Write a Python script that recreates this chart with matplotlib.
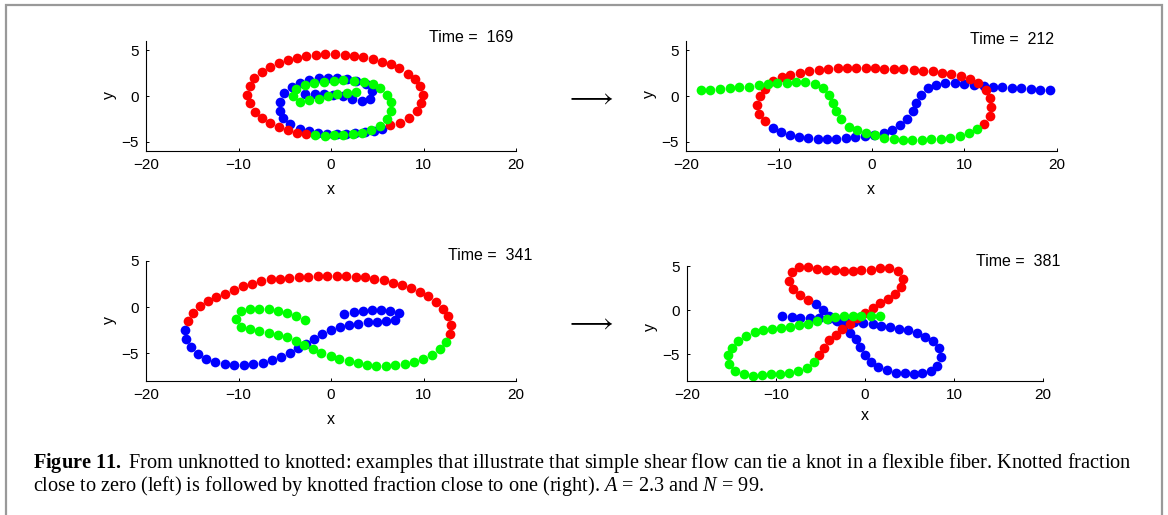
import numpy as np
import matplotlib
matplotlib.use('Agg')
import matplotlib.pyplot as plt
from matplotlib.patches import Rectangle

# ---- bead positions (x, y) ----
# Time = 169
t169_red_x = [-2.7, -3.7, -4.7, -5.65, -6.6, -7.45, -8.25, -8.8, -9.1, -8.8, -8.3, -7.45, -6.55, -5.6,
              -4.6, -3.65, -2.65, -1.65, -0.6, 0.45, 1.5, 2.45, 3.5, 4.5, 5.5, 6.5, 7.4, 8.3, 9.05, 9.65,
              9.95, 9.75, 9.25, 8.4, 7.5, 6.4]
t169_red_y = [-4.15, -4.0, -3.75, -3.4, -2.95, -2.4, -1.7, -0.8, 0.15, 1.05, 1.95, 2.65, 3.2, 3.55,
              3.9, 4.15, 4.35, 4.5, 4.6, 4.6, 4.5, 4.4, 4.25, 4.0, 3.75, 3.45, 3.0, 2.45, 1.8, 1.1,
              0.15, -0.8, -1.6, -2.4, -2.9, -3.2]
t169_blue_x = [-2.8, -1.75, -0.8, 0.2, 1.25, 2.25, 3.3, 4.25, 4.45, 3.8, 2.75, 1.75, 0.65, -0.35, -1.35,
               -2.4, -3.35, -4.25, -5.1, -5.5, -5.55, -5.2, -4.4, -3.4, -2.4, -1.45, -0.45, 0.6, 1.6,
               2.6, 3.65, 4.6, 5.55]
t169_blue_y = [0.2, 0.25, 0.2, 0.15, -0.05, -0.35, -0.5, -0.35, 0.6, 1.3, 1.6, 1.8, 1.95, 2.0, 1.95,
               1.75, 1.45, 1.0, 0.35, -0.6, -1.6, -2.45, -3.1, -3.55, -3.85, -4.0, -4.1, -4.15, -4.1,
               -4.05, -3.95, -3.8, -3.65]
t169_green_x = [2.75, 1.75, 0.7, -0.3, -1.35, -2.35, -3.3, -4.1, -3.75, -2.85, -1.85, -0.8, 0.3, 1.35,
                2.45, 3.55, 4.5, 5.35, 6.05, 6.5, 6.5, 6.05, 5.25, 4.3, 3.35, 2.35, 1.35, 0.35, -0.7, -1.75]
t169_green_y = [0.45, 0.35, 0.2, -0.05, -0.3, -0.45, -0.6, 0.0, 0.75, 1.2, 1.45, 1.55, 1.6, 1.7,
                1.65, 1.5, 1.35, 0.85, 0.15, -0.7, -1.6, -2.55, -3.3, -3.75, -4.0, -4.1, -4.2, -4.3, -4.35, -4.2]

# Time = 212
t212_red_x = [-11.5, -12.15, -12.35, -12.05, -11.45, -10.6, -9.7, -8.75, -7.75, -6.7, -5.7, -4.7, -3.65,
              -2.65, -1.65, -0.6, 0.4, 1.4, 2.45, 3.45, 4.55, 5.55, 6.6, 7.6, 8.6, 9.6, 10.6, 11.45,
              12.3, 12.75, 12.9, 12.75, 12.15]
t212_red_y = [-2.75, -1.95, -0.95, 0.0, 0.75, 1.6, 2.05, 2.3, 2.55, 2.7, 2.85, 2.9, 3.0,
              3.0, 3.0, 3.0, 3.0, 2.95, 2.95, 2.9, 2.85, 2.75, 2.7, 2.55, 2.4, 2.2, 1.85, 1.4,
              0.65, -0.2, -1.15, -2.15, -3.05]
t212_blue_x = [-10.6, -9.75, -8.8, -7.8, -6.8, -5.8, -4.8, -3.8, -2.75, -1.75, -0.75, 0.25, 1.3, 2.2,
               3.1, 3.85, 4.45, 4.85, 5.35, 6.05, 7.0, 7.95, 8.95, 10.0, 11.0, 12.1, 13.1, 14.1, 15.15,
               16.15, 17.15, 18.15, 19.2]
t212_blue_y = [-3.5, -3.9, -4.3, -4.5, -4.6, -4.65, -4.65, -4.65, -4.6, -4.5, -4.4, -4.3, -4.05, -3.7,
               -3.15, -2.5, -1.65, -0.8, 0.15, 0.85, 1.25, 1.4, 1.4, 1.3, 1.2, 1.05, 1.0, 0.95, 0.85,
               0.85, 0.75, 0.7, 0.65]
t212_green_x = [-18.4, -17.4, -16.3, -15.3, -14.25, -13.25, -12.15, -11.15, -10.15, -9.1, -8.1, -7.15,
                -6.05, -5.25, -4.6, -4.15, -3.8, -3.3, -2.45, -1.55, -0.55, 0.4, 1.4, 2.4, 3.4, 4.4,
                5.45, 6.45, 7.5, 8.5, 9.5, 10.5, 11.4]
t212_green_y = [0.7, 0.7, 0.8, 0.85, 0.95, 1.0, 1.2, 1.3, 1.4, 1.45, 1.55, 1.5,
                1.3, 0.85, 0.15, -0.8, -1.65, -2.55, -3.35, -3.75, -4.0, -4.3, -4.55, -4.7, -4.8, -4.8,
                -4.75, -4.7, -4.65, -4.55, -4.35, -4.05, -3.6]

# Time = 341
t341_red_x = [-15.5, -14.9, -14.2, -13.35, -12.4, -11.5, -10.5, -9.55, -8.55, -7.55, -6.5, -5.5, -4.5,
              -3.5, -2.5, -1.45, -0.45, 0.6, 1.6, 2.65, 3.7, 4.7, 5.75, 6.7, 7.7, 8.7, 9.6, 10.5,
              11.4, 12.1, 12.65, 12.95, 12.9]
t341_red_y = [-1.45, -0.6, 0.1, 0.65, 1.05, 1.45, 1.85, 2.25, 2.55, 2.8, 3.0, 3.1, 3.2,
              3.25, 3.3, 3.35, 3.35, 3.35, 3.35, 3.3, 3.25, 3.1, 2.9, 2.65, 2.35, 2.05, 1.6, 1.2,
              0.6, -0.15, -0.95, -1.95, -2.95]
t341_blue_x = [-15.75, -15.65, -15.15, -14.4, -13.5, -12.5, -11.5, -10.5, -9.45, -8.45, -7.4, -6.4, -5.4,
               -4.45, -3.6, -2.75, -1.85, -0.95, -0.05, 0.95, 1.9, 2.9, 3.95, 4.95, 5.95, 6.95, 7.3,
               6.4, 5.45, 4.45, 3.45, 2.45, 1.45]
t341_blue_y = [-2.5, -3.5, -4.35, -5.1, -5.6, -5.95, -6.15, -6.25, -6.25, -6.2, -6.0, -5.7, -5.45,
               -5.0, -4.45, -4.0, -3.45, -2.95, -2.5, -2.2, -1.95, -1.85, -1.65, -1.6, -1.55, -1.4, -0.6,
               -0.4, -0.3, -0.3, -0.4, -0.5, -0.7]
t341_green_x = [-2.85, -3.8, -4.75, -5.75, -6.75, -7.8, -8.8, -9.75, -10.25, -9.75, -8.8, -7.8, -6.75,
                -5.75, -4.75, -3.8, -2.95, -2.0, -1.1, -0.05, 0.9, 1.9, 2.9, 3.9, 4.9, 5.95, 6.95,
                7.95, 8.95, 9.95, 10.9, 11.75, 12.45]
t341_green_y = [-1.35, -0.95, -0.6, -0.4, -0.25, -0.2, -0.2, -0.45, -1.3, -2.1, -2.4, -2.6, -2.75,
                -3.0, -3.25, -3.65, -4.15, -4.55, -4.95, -5.3, -5.6, -5.85, -6.1, -6.25, -6.35, -6.35, -6.3,
                -6.15, -5.9, -5.6, -5.2, -4.55, -3.8]

# Time = 381
t381_red_x = [-5.15, -4.6, -4.0, -3.3, -2.55, -1.7, -0.85, 0.0, 0.85, 1.7, 2.55, 3.4, 4.05, 4.25,
              3.75, 2.75, 1.7, 0.65, -0.4, -1.4, -2.35, -3.4, -4.4, -5.35, -6.4, -7.4, -8.25, -8.5,
              -8.05, -7.3, -6.45]
t381_red_y = [-5.1, -4.25, -3.35, -2.75, -2.1, -1.5, -0.85, -0.3, 0.25, 0.8, 1.25, 1.85, 2.6, 3.55,
              4.45, 4.8, 4.75, 4.6, 4.5, 4.4, 4.45, 4.5, 4.6, 4.7, 4.85, 4.85, 4.3, 3.25,
              2.4, 1.75, 1.2]
t381_blue_x = [-5.55, -4.75, -4.0, -3.2, -2.45, -1.7, -1.0, -0.55, 0.0, 0.65, 1.5, 2.45, 3.45, 4.45,
               5.45, 6.45, 7.45, 8.05, 8.55, 8.3, 7.6, 6.75, 5.8, 4.8, 3.85, 2.8, 1.8, 0.85, -0.2,
               -1.2, -2.25, -3.25, -4.2, -5.2, -6.2, -7.25, -8.25, -9.3]
t381_blue_y = [0.65, 0.0, -0.6, -1.25, -1.85, -2.55, -3.3, -4.15, -5.05, -5.85, -6.4, -6.8, -7.05, -7.1,
               -7.2, -7.15, -6.9, -6.3, -5.25, -4.3, -3.5, -3.0, -2.55, -2.25, -2.1, -1.95, -1.75, -1.6, -1.45,
               -1.35, -1.2, -1.15, -0.95, -0.9, -0.9, -0.85, -0.8, -0.65]
t381_green_x = [1.7, 0.65, -0.4, -1.4, -2.35, -3.4, -4.3, -5.35, -6.4, -7.4, -8.45, -9.45, -10.45,
                -11.45, -12.4, -13.4, -14.25, -15.0, -15.4, -15.25, -14.6, -13.6, -12.55, -11.55,
                -10.55, -9.55, -8.5, -7.5, -6.5, -5.75]
t381_green_y = [-0.6, -0.6, -0.6, -0.65, -0.65, -0.75, -0.95, -1.25, -1.5, -1.7, -1.85, -2.0, -2.15,
                -2.25, -2.5, -2.95, -3.5, -4.25, -5.1, -6.1, -6.85, -7.25, -7.4, -7.35,
                -7.25, -7.2, -7.05, -6.9, -6.5, -5.85]

times = [169, 212, 341, 381]
xticks = [-20, -10, 0, 10, 20]
yticks = [-5, 0, 5]

W, H = 1168, 515


def px_box(l, t, r, b):
    # pixel box -> figure fraction [left, bottom, width, height]
    return [l / W, 1 - b / H, (r - l) / W, (b - t) / H]


def fx(x):
    return x / W


def fy(y):
    return 1 - y / H


plt.rcParams['mathtext.fontset'] = 'custom'
plt.rcParams['mathtext.rm'] = 'Liberation Serif'
plt.rcParams['mathtext.it'] = 'Liberation Serif:italic'
plt.rcParams['mathtext.bf'] = 'Liberation Serif:bold'

fig = plt.figure(figsize=(W / 100, H / 100), dpi=100)

panels = [
    dict(box=px_box(146, 41, 516, 151), ylim=(-6, 6),
         red=(t169_red_x, t169_red_y), blue=(t169_blue_x, t169_blue_y), green=(t169_green_x, t169_green_y),
         title=(513, 37), xlab=(331, 189), ylab=(109, 95)),
    dict(box=px_box(686, 41, 1057, 151), ylim=(-6, 6),
         red=(t212_red_x, t212_red_y), blue=(t212_blue_x, t212_blue_y), green=(t212_green_x, t212_green_y),
         title=(1054, 39), xlab=(871, 189), ylab=(649, 94)),
    dict(box=px_box(146, 261, 516, 381), ylim=(-8, 5),
         red=(t341_red_x, t341_red_y), blue=(t341_blue_x, t341_blue_y), green=(t341_green_x, t341_green_y),
         title=(532, 256), xlab=(331, 419), ylab=(109, 320)),
    dict(box=px_box(687, 266, 1043, 381), ylim=(-8, 5),
         red=(t381_red_x, t381_red_y), blue=(t381_blue_x, t381_blue_y), green=(t381_green_x, t381_green_y),
         title=(1060, 262), xlab=(865, 416), ylab=(650, 327)),
]

sans = 'Liberation Sans'
ms = 7.0

for p, t in zip(panels, times):
    ax = fig.add_axes(p['box'])
    # draw order: blue, red, green
    for key, col in [('blue', '#0000ff'), ('red', '#ff0000'), ('green', '#00ff00')]:
        xs, ys = p[key]
        ax.plot(xs, ys, 'o', ms=ms, mfc=col, mec=col, mew=0, clip_on=False)
    ax.set_xlim(-20, 20)
    ax.set_ylim(*p['ylim'])
    ax.set_xticks(xticks)
    ax.set_yticks(yticks)
    ax.set_xticklabels([str(v).replace('-', '\u2212') for v in xticks])
    ax.set_yticklabels([str(v).replace('-', '\u2212') for v in yticks])
    for s in ['top', 'right']:
        ax.spines[s].set_visible(False)
    for s in ['left', 'bottom']:
        ax.spines[s].set_linewidth(0.8)
    ax.tick_params(direction='in', length=2.5, width=0.7, labelsize=11, pad=5)
    for lab in ax.get_xticklabels() + ax.get_yticklabels():
        lab.set_family(sans)
    ax.patch.set_visible(False)

    fig.text(fx(p['title'][0]), fy(p['title'][1]), 'Time =  %d' % t, ha='right', va='center',
             family=sans, fontsize=11.5)
    fig.text(fx(p['xlab'][0]), fy(p['xlab'][1]), 'x', ha='center', va='center', family=sans, fontsize=11.5)
    fig.text(fx(p['ylab'][0]), fy(p['ylab'][1]), 'y', ha='center', va='center', family=sans, fontsize=11.5,
             rotation=90)

# arrows between the columns
for ay in [97, 322]:
    fig.text(fx(590), fy(ay), r'$\longrightarrow$', ha='center', va='center', fontsize=20,
             math_fontfamily='cm')

# caption
cap1 = (r'$\mathbf{Figure\ 11.}$ From unknotted to knotted: examples that illustrate that simple shear '
        r'flow can tie a knot in a flexible fiber. Knotted fraction')
cap2 = r'close to zero (left) is followed by knotted fraction close to one (right). $A$ = 2.3 and $N$ = 99.'
fig.text(fx(33), fy(468), cap1, ha='left', va='baseline', family='Liberation Serif', fontsize=14.6)
fig.text(fx(33), fy(491), cap2, ha='left', va='baseline', family='Liberation Serif', fontsize=14.6)

# frame round the figure
fig.patches.append(Rectangle((fx(6), -0.1), fx(1162) - fx(6), fy(5) + 0.1, transform=fig.transFigure,
                             fill=False, edgecolor='#999999', linewidth=1.6))

fig.savefig('out.png', dpi=100)
